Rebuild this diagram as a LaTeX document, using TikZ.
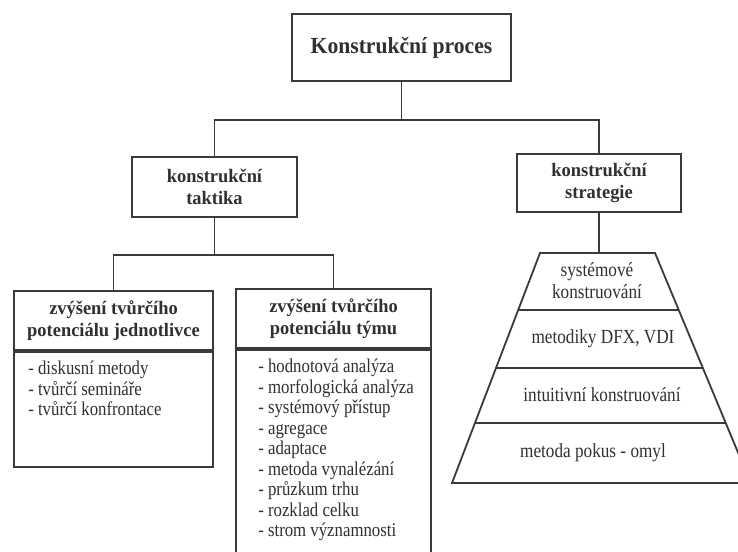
\documentclass[tikz,border=0pt]{standalone}
\usepackage{fontspec}
\setmainfont[FakeStretch=0.86]{Liberation Serif}
\newfontfamily\headfont[FakeStretch=0.97]{Liberation Serif}
\newfontfamily\procfont[FakeStretch=0.94]{Liberation Serif}
\definecolor{linec}{HTML}{3A3A3A}
\definecolor{textc}{HTML}{303030}
\begin{document}
\begin{tikzpicture}[x=1bp,y=-1bp,
  conn/.style={draw=linec, line width=1.8bp},
  box/.style={draw=linec, line width=1.8bp, fill=white, inner sep=0pt, align=center, text=textc},
  headtxt/.style={font=\headfont\bfseries\fontsize{19bp}{21.5bp}\selectfont},
  bodytxt/.style={font=\fontsize{19.5bp}{20.5bp}\selectfont, text=textc, inner sep=0pt, align=left, anchor=north west},
  pyrtxt/.style={font=\fontsize{20bp}{22bp}\selectfont, text=textc, inner sep=0pt, align=center}]
\useasboundingbox (0,0) rectangle (738,552);
\clip (0,0) rectangle (738,552);
\fill[white] (0,0) rectangle (738,552);

% top
\node[box, minimum width=219bp, minimum height=67bp, font=\procfont\bfseries\fontsize{23bp}{26bp}\selectfont] (proc) at (401.5,47.5) {Konstrukční proces};
% second level
\node[box, headtxt, minimum width=165bp, minimum height=60bp] (takt) at (214.5,187) {konstrukční\\taktika};
\node[box, headtxt, minimum width=164bp, minimum height=58bp] (strat) at (599,183) {konstrukční\\strategie};
% left box
\node[box, headtxt, minimum width=199bp, minimum height=59bp] (jedh) at (113.5,320.5) {zvýšení tvůrčího\\potenciálu jednotlivce};
\node[box, minimum width=199bp, minimum height=115bp, anchor=north] (jedb) at (jedh.south) {};
\node[bodytxt] (jedl) at ([shift={(15,10)}]jedb.north west) {- diskusní metody\\- tvůrčí semináře\\- tvůrčí konfrontace};
% middle box
\node[box, headtxt, minimum width=195bp, minimum height=59bp] (tymh) at (333.5,318.5) {zvýšení tvůrčího\\potenciálu týmu};
\node[box, minimum width=195bp, minimum height=240bp, anchor=north] (tymb) at (tymh.south) {};
\node[bodytxt] (tyml) at ([shift={(23,10)}]tymb.north west) {- hodnotová analýza\\- morfologická analýza\\- systémový přístup\\- agregace\\- adaptace\\- metoda vynalézání\\- průzkum trhu\\- rozklad celku\\- strom významnosti};

% connectors
\path (proc.south) ++(0,38) coordinate (j1);
\draw[conn] (proc.south) -- (j1);
\draw[conn] (takt.north) |- (j1) -| (strat.north);
\path (takt.south) ++(0,37) coordinate (j2);
\draw[conn] (takt.south) -- (j2);
\draw[conn] (jedh.north) |- (j2) -| (tymh.north);

% pyramid
\coordinate (p0l) at (540,253);   \coordinate (p0r) at (655,253);
\coordinate (p1l) at (518.2,310); \coordinate (p1r) at (678.7,310);
\coordinate (p2l) at (496,368);   \coordinate (p2r) at (702.8,368);
\coordinate (p3l) at (475,423);   \coordinate (p3r) at (725.7,423);
\coordinate (p4l) at (452,483);   \coordinate (p4r) at (750.7,483);
\draw[conn, line join=miter] (p0l) -- (p4l) -- (p4r) -- (p0r) -- cycle;
\draw[conn] (p1l) -- (p1r);
\draw[conn] (p2l) -- (p2r);
\draw[conn] (p3l) -- (p3r);
\coordinate (ptop) at (strat.south |- p0l);
\draw[conn] (strat.south) -- (ptop);
\node[pyrtxt] (s1) at (597,281) {systémové\\konstruování};
\node[pyrtxt] (s2) at (603,339) {metodiky DFX, VDI};
\node[pyrtxt] (s3) at (602,395) {intuitivní konstruování};
\node[pyrtxt] (s4) at (593,453) {metoda pokus - omyl};
\end{tikzpicture}
\end{document}
